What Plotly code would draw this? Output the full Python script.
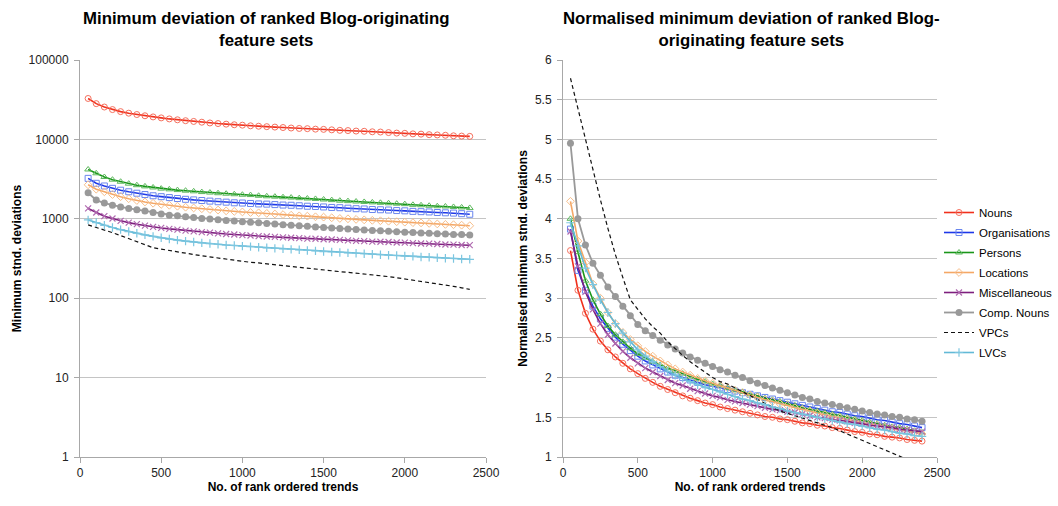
import plotly.graph_objects as go

# Rank cut-offs (number of rank ordered trends)
ranks = list(range(50, 2401, 50))

series_names = ["Nouns", "Organisations", "Persons", "Locations",
                "Miscellaneous", "Comp. Nouns", "VPCs", "LVCs"]

# Minimum standard deviations (left panel, log scale)
nouns_min = [32760, 28210, 25570, 23750, 22390, 21390, 20570, 19840, 19200, 18660,
             18110, 17650, 17200, 16840, 16470, 16110, 15830, 15560, 15290, 15110,
             14830, 14650, 14470, 14290, 14110, 13920, 13740, 13650, 13470, 13380,
             13200, 13010, 12920, 12740, 12650, 12470, 12380, 12190, 12010, 11920,
             11740, 11650, 11470, 11380, 11280, 11100, 11010, 10920]
orgs_min = [3230, 2800, 2590, 2420, 2290, 2190, 2100, 2020, 1950, 1900,
            1850, 1800, 1760, 1730, 1700, 1670, 1640, 1620, 1590, 1580,
            1560, 1540, 1530, 1510, 1490, 1480, 1460, 1440, 1430, 1410,
            1390, 1380, 1360, 1340, 1330, 1310, 1300, 1290, 1270, 1260,
            1240, 1230, 1220, 1200, 1190, 1180, 1160, 1140]
persons_min = [4180, 3740, 3360, 3110, 2930, 2770, 2650, 2560, 2480, 2400,
               2350, 2300, 2260, 2220, 2170, 2140, 2100, 2070, 2040, 2010,
               1990, 1950, 1920, 1900, 1870, 1850, 1820, 1800, 1780, 1750,
               1720, 1690, 1670, 1650, 1630, 1610, 1590, 1570, 1550, 1530,
               1500, 1480, 1460, 1440, 1430, 1410, 1390, 1370]
locations_min = [2680, 2360, 2190, 2020, 1900, 1790, 1700, 1630, 1570, 1520,
                 1480, 1440, 1400, 1370, 1340, 1310, 1290, 1260, 1240, 1220,
                 1200, 1190, 1170, 1150, 1130, 1110, 1090, 1080, 1060, 1050,
                 1030, 1010, 1000, 983, 970, 957, 945, 932, 919, 907,
                 894, 888, 875, 862, 850, 843, 831, 818]
misc_min = [1350, 1200, 1080, 1010, 943, 894, 855, 820, 792, 767,
            746, 729, 711, 693, 679, 669, 655, 644, 634, 623,
            616, 605, 598, 591, 584, 577, 570, 563, 560, 553,
            549, 542, 535, 528, 524, 517, 514, 510, 503, 500,
            493, 489, 486, 482, 475, 472, 468, 465]
comp_min = [2130, 1720, 1580, 1480, 1410, 1350, 1300, 1250, 1200, 1150,
            1110, 1090, 1060, 1040, 1010, 993, 972, 955, 937, 920,
            903, 890, 873, 860, 843, 830, 817, 804, 791, 778,
            765, 753, 744, 731, 722, 714, 705, 697, 688, 679,
            671, 662, 658, 649, 645, 636, 632, 624]
vpcs_min = [837, 780, 725, 670, 615, 563, 515, 473, 432, 415,
            397, 383, 371, 355, 342, 331, 319, 309, 299, 290,
            283, 278, 271, 264, 257, 249, 242, 235, 229, 225,
            220, 216, 212, 207, 203, 199, 193, 187, 181, 175,
            170, 164, 158, 152, 146, 141, 135, 129]
lvcs_min = [968, 897, 828, 777, 730, 691, 657, 627, 600, 576,
            556, 539, 524, 510, 497, 488, 478, 468, 461, 453,
            446, 439, 431, 424, 419, 412, 407, 399, 394, 387,
            382, 377, 372, 368, 363, 358, 353, 348, 345, 341,
            336, 331, 328, 323, 319, 316, 311, 309]

# Normalised minimum standard deviations (right panel)
nouns_norm = [3.60, 3.10, 2.81, 2.61, 2.46, 2.35, 2.26, 2.18, 2.11, 2.05,
              1.99, 1.94, 1.89, 1.85, 1.81, 1.77, 1.74, 1.71, 1.68, 1.66,
              1.63, 1.61, 1.59, 1.57, 1.55, 1.53, 1.51, 1.50, 1.48, 1.47,
              1.45, 1.43, 1.42, 1.40, 1.39, 1.37, 1.36, 1.34, 1.32, 1.31,
              1.29, 1.28, 1.26, 1.25, 1.24, 1.22, 1.21, 1.20]
orgs_norm = [3.87, 3.35, 3.10, 2.90, 2.74, 2.62, 2.51, 2.42, 2.34, 2.27,
             2.21, 2.16, 2.11, 2.07, 2.03, 2.00, 1.97, 1.94, 1.91, 1.89,
             1.87, 1.85, 1.83, 1.81, 1.79, 1.77, 1.75, 1.73, 1.71, 1.69,
             1.67, 1.65, 1.63, 1.61, 1.59, 1.57, 1.56, 1.54, 1.52, 1.51,
             1.49, 1.47, 1.46, 1.44, 1.42, 1.41, 1.39, 1.37]
persons_norm = [4.00, 3.58, 3.22, 2.98, 2.80, 2.65, 2.54, 2.45, 2.37, 2.30,
                2.25, 2.20, 2.16, 2.12, 2.08, 2.05, 2.01, 1.98, 1.95, 1.92,
                1.90, 1.87, 1.84, 1.82, 1.79, 1.77, 1.74, 1.72, 1.70, 1.67,
                1.65, 1.62, 1.60, 1.58, 1.56, 1.54, 1.52, 1.50, 1.48, 1.46,
                1.44, 1.42, 1.40, 1.38, 1.37, 1.35, 1.33, 1.31]
locations_norm = [4.22, 3.72, 3.45, 3.18, 3.00, 2.82, 2.68, 2.57, 2.48, 2.40,
                  2.33, 2.27, 2.21, 2.16, 2.11, 2.07, 2.03, 1.99, 1.96, 1.93,
                  1.90, 1.87, 1.84, 1.81, 1.78, 1.75, 1.72, 1.70, 1.67, 1.65,
                  1.62, 1.60, 1.58, 1.55, 1.53, 1.51, 1.49, 1.47, 1.45, 1.43,
                  1.41, 1.40, 1.38, 1.36, 1.34, 1.33, 1.31, 1.29]
misc_norm = [3.84, 3.40, 3.08, 2.86, 2.68, 2.54, 2.43, 2.33, 2.25, 2.18,
             2.12, 2.07, 2.02, 1.97, 1.93, 1.90, 1.86, 1.83, 1.80, 1.77,
             1.75, 1.72, 1.70, 1.68, 1.66, 1.64, 1.62, 1.60, 1.59, 1.57,
             1.56, 1.54, 1.52, 1.50, 1.49, 1.47, 1.46, 1.45, 1.43, 1.42,
             1.40, 1.39, 1.38, 1.37, 1.35, 1.34, 1.33, 1.32]
comp_norm = [4.95, 4.00, 3.67, 3.44, 3.29, 3.14, 3.02, 2.90, 2.78, 2.67,
             2.59, 2.53, 2.47, 2.41, 2.36, 2.31, 2.26, 2.22, 2.18, 2.14,
             2.10, 2.07, 2.03, 2.00, 1.96, 1.93, 1.90, 1.87, 1.84, 1.81,
             1.78, 1.75, 1.73, 1.70, 1.68, 1.66, 1.64, 1.62, 1.60, 1.58,
             1.56, 1.54, 1.53, 1.51, 1.50, 1.48, 1.47, 1.45]
vpcs_norm = [5.77, 5.38, 5.00, 4.62, 4.24, 3.88, 3.55, 3.26, 2.98, 2.86,
             2.74, 2.64, 2.56, 2.45, 2.36, 2.28, 2.20, 2.13, 2.06, 2.00,
             1.95, 1.92, 1.87, 1.82, 1.77, 1.72, 1.67, 1.62, 1.58, 1.55,
             1.52, 1.49, 1.46, 1.43, 1.40, 1.37, 1.33, 1.29, 1.25, 1.21,
             1.17, 1.13, 1.09, 1.05, 1.01, 0.97, 0.93, 0.89]
lvcs_norm = [3.95, 3.66, 3.38, 3.17, 2.98, 2.82, 2.68, 2.56, 2.45, 2.35,
             2.27, 2.20, 2.14, 2.08, 2.03, 1.99, 1.95, 1.91, 1.88, 1.85,
             1.82, 1.79, 1.76, 1.73, 1.71, 1.68, 1.66, 1.63, 1.61, 1.58,
             1.56, 1.54, 1.52, 1.50, 1.48, 1.46, 1.44, 1.42, 1.41, 1.39,
             1.37, 1.35, 1.34, 1.32, 1.30, 1.29, 1.27, 1.26]

left_values = [nouns_min, orgs_min, persons_min, locations_min,
               misc_min, comp_min, vpcs_min, lvcs_min]
right_values = [nouns_norm, orgs_norm, persons_norm, locations_norm,
                misc_norm, comp_norm, vpcs_norm, lvcs_norm]

left_ticks = [1, 10, 100, 1000, 10000, 100000]
left_tick_text = ["1", "10", "100", "1000", "10000", "100000"]

# Line / marker styling per series
styles = {
    "Nouns": dict(line=dict(color="#F0301C", width=1.6),
                  marker=dict(symbol="circle-open", size=6, color="#F5705E", line=dict(width=1))),
    "Organisations": dict(line=dict(color="#1E38E8", width=1.6),
                          marker=dict(symbol="square-open", size=6, color="#6A86EE", line=dict(width=1))),
    "Persons": dict(line=dict(color="#1A961A", width=1.6),
                    marker=dict(symbol="triangle-up-open", size=6, color="#5CB85C", line=dict(width=1))),
    "Locations": dict(line=dict(color="#F4A766", width=1.6),
                      marker=dict(symbol="diamond-open", size=6, color="#F7BE8A", line=dict(width=1))),
    "Miscellaneous": dict(line=dict(color="#7E1F7E", width=1.6),
                          marker=dict(symbol="x-thin-open", size=6, color="#B06AB0", line=dict(width=1.2))),
    "Comp. Nouns": dict(line=dict(color="#999999", width=1.8),
                        marker=dict(symbol="circle", size=7, color="#999999")),
    "VPCs": dict(line=dict(color="#111111", width=1.2, dash="4px,3px"),
                 marker=dict(size=1)),
    "LVCs": dict(line=dict(color="#62B9D6", width=1.6),
                 marker=dict(symbol="cross-thin-open", size=6, color="#7CC6E0", line=dict(width=1.2))),
}

fig = go.Figure()

for name, vals in zip(series_names, left_values):
    st = styles[name]
    mode = "lines" if name == "VPCs" else "lines+markers"
    fig.add_trace(go.Scatter(x=ranks, y=vals, name=name, mode=mode,
                             line=st["line"], marker=st["marker"], legendgroup=name,
                             xaxis="x", yaxis="y", showlegend=False))

for name, vals in zip(series_names, right_values):
    st = styles[name]
    mode = "lines" if name == "VPCs" else "lines+markers"
    fig.add_trace(go.Scatter(x=ranks, y=vals, name=name, mode=mode,
                             line=st["line"], marker=st["marker"], legendgroup=name,
                             xaxis="x2", yaxis="y2", showlegend=True))

W, H = 1058, 506
font_family = "Liberation Sans, Arial, sans-serif"
grid = "#C4C4C4"
axis_col = "#A8A8A8"
tick_font = dict(family=font_family, size=12, color="#222222")
title_font = dict(family=font_family, size=12, color="#000000")

y_dom = [1 - 457 / H, 1 - 60 / H]

common_x = dict(range=[0, 2500], dtick=500, tick0=0, showgrid=False,
                showline=True, linecolor=axis_col, linewidth=1,
                ticks="outside", ticklen=5, tickcolor=axis_col,
                tickfont=tick_font, zeroline=False, automargin=False)

common_y = dict(showgrid=True, gridcolor=grid, gridwidth=1,
                showline=True, linecolor=axis_col, linewidth=1,
                ticks="outside", ticklen=5, tickcolor=axis_col,
                tickfont=tick_font, zeroline=False, automargin=False,
                ticklabelstandoff=3)

fig.update_layout(
    width=W, height=H,
    margin=dict(l=0, r=0, t=0, b=0),
    paper_bgcolor="white", plot_bgcolor="white",
    font=dict(family=font_family),
    xaxis=dict(domain=[80 / W, 486 / W], anchor="y",
               title=dict(text="<b>No. of rank ordered trends</b>", font=title_font, standoff=0),
               **common_x),
    yaxis=dict(domain=y_dom, anchor="x", type="log", range=[0, 5],
               tickvals=left_ticks, ticktext=left_tick_text,
               title=dict(text="<b>Minimum stnd. deviations</b>", font=title_font, standoff=4),
               **common_y),
    xaxis2=dict(domain=[563 / W, 937 / W], anchor="y2",
                title=dict(text="<b>No. of rank ordered trends</b>", font=title_font, standoff=0),
                **common_x),
    yaxis2=dict(domain=y_dom, anchor="x2", range=[1, 6], dtick=0.5, tick0=1,
                title=dict(text="<b>Normalised minimum stnd. deviations</b>", font=title_font, standoff=4),
                **common_y),
    legend=dict(x=1, y=1 - 282.5 / H, xanchor="right", yanchor="middle",
                font=dict(family=font_family, size=11.5, color="#000000"),
                bgcolor="rgba(0,0,0,0)", tracegroupgap=1, itemwidth=30),
    annotations=[
        dict(text="<b>Minimum deviation of ranked Blog-originating<br>feature sets</b>",
             x=266 / W, y=1 - 7 / H, xref="paper", yref="paper",
             xanchor="center", yanchor="top", showarrow=False,
             font=dict(family=font_family, size=16.8, color="#000000")),
        dict(text="<b>Normalised minimum deviation of ranked Blog-<br>originating feature sets</b>",
             x=751 / W, y=1 - 7 / H, xref="paper", yref="paper",
             xanchor="center", yanchor="top", showarrow=False,
             font=dict(family=font_family, size=16.8, color="#000000")),
    ],
)

fig.write_html("out.html")
